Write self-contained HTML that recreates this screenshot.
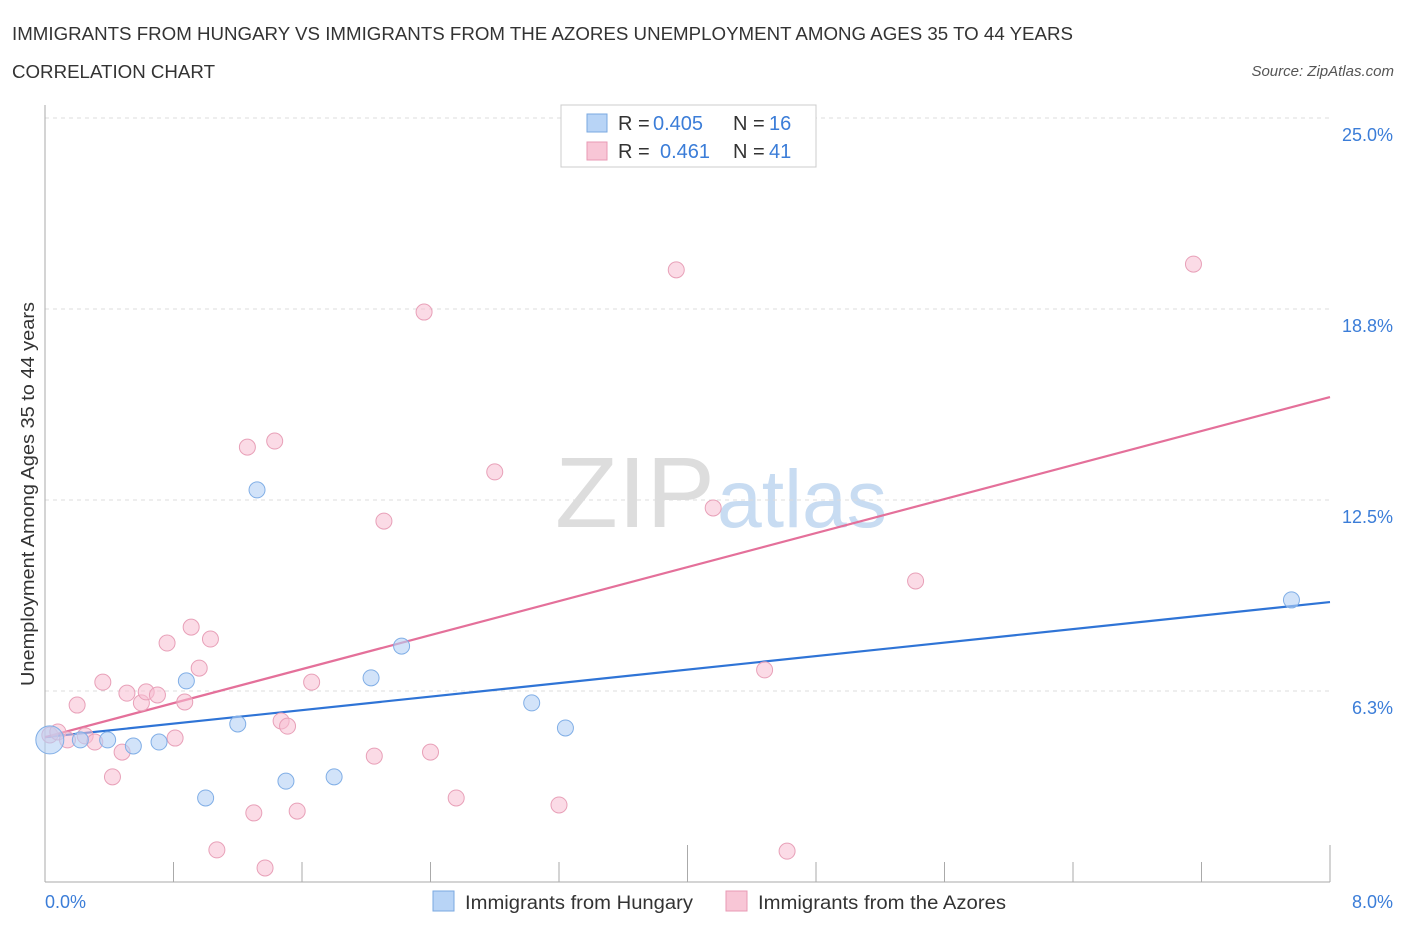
<!DOCTYPE html>
<html><head><meta charset="utf-8">
<style>
body{margin:0;background:#fff;font-family:"Liberation Sans",sans-serif;}
svg text{font-family:"Liberation Sans",sans-serif;}
</style></head>
<body>
<svg id="chart" width="1406" height="930" xmlns="http://www.w3.org/2000/svg">
<text x="12" y="40" font-size="18" fill="#333" textLength="1061" lengthAdjust="spacingAndGlyphs">IMMIGRANTS FROM HUNGARY VS IMMIGRANTS FROM THE AZORES UNEMPLOYMENT AMONG AGES 35 TO 44 YEARS</text>
<text x="12" y="78" font-size="18" fill="#333" textLength="203" lengthAdjust="spacingAndGlyphs">CORRELATION CHART</text>
<text x="1394" y="76" font-size="15" fill="#555" text-anchor="end" font-style="italic">Source: ZipAtlas.com</text>
<text transform="translate(34,494) rotate(-90)" font-size="18" fill="#333" text-anchor="middle" textLength="384" lengthAdjust="spacingAndGlyphs">Unemployment Among Ages 35 to 44 years</text>
<text x="555" y="527" font-size="100" fill="#ddd" font-family="Liberation Serif" textLength="160" lengthAdjust="spacingAndGlyphs">ZIP</text>
<text x="717" y="527" font-size="82" fill="#c8dcf2" textLength="170" lengthAdjust="spacingAndGlyphs">atlas</text>
<g id="grid"></g><g id="axes"></g><g id="trends"></g><g id="points"></g>
<g>
<rect x="561" y="105" width="255" height="62" fill="#fff" stroke="#ccc"/>
<rect x="587" y="114" width="20" height="18" fill="#b8d4f6" stroke="#7aa8e0"/>
<text x="618" y="130" font-size="20" fill="#333">R =</text>
<text x="653" y="130" font-size="20" fill="#3b7dd8">0.405</text>
<text x="733" y="130" font-size="20" fill="#333">N =</text>
<text x="769" y="130" font-size="20" fill="#3b7dd8">16</text>
<rect x="587" y="142" width="20" height="18" fill="#f8c6d6" stroke="#e89ab4"/>
<text x="618" y="158" font-size="20" fill="#333">R =</text>
<text x="660" y="158" font-size="20" fill="#3b7dd8">0.461</text>
<text x="733" y="158" font-size="20" fill="#333">N =</text>
<text x="769" y="158" font-size="20" fill="#3b7dd8">41</text>
</g>
<g>
<rect x="433" y="891" width="21" height="20" fill="#b8d4f6" stroke="#7aa8e0"/>
<text x="465" y="909" font-size="19" fill="#333" textLength="228" lengthAdjust="spacingAndGlyphs">Immigrants from Hungary</text>
<rect x="726" y="891" width="21" height="20" fill="#f8c6d6" stroke="#e89ab4"/>
<text x="758" y="909" font-size="19" fill="#333" textLength="248" lengthAdjust="spacingAndGlyphs">Immigrants from the Azores</text>
</g>
</svg>
<script>
const xTickLabels=["0.0%","8.0%"];
const yTicks=[6.25,12.5,18.75,25];
const yTickLabels=["6.3%","12.5%","18.8%","25.0%"];
const hungaryX=[0.03,0.22,0.39,0.55,0.71,0.88,1.00,1.20,1.32,1.50,1.80,2.03,2.22,3.03,3.24,7.76];
const hungaryY=[4.65,4.65,4.65,4.45,4.58,6.58,2.75,5.17,12.83,3.30,3.44,6.68,7.72,5.86,5.04,9.23];
const azoresX=[0.03,0.08,0.14,0.20,0.25,0.31,0.36,0.42,0.48,0.51,0.60,0.63,0.70,0.76,0.81,0.87,0.91,0.96,1.03,1.07,1.26,1.30,1.37,1.43,1.47,1.51,1.57,1.66,2.05,2.11,2.36,2.40,2.56,2.80,3.20,3.93,4.16,4.48,4.62,5.42,7.15];
const azoresY=[4.81,4.91,4.65,5.79,4.78,4.58,6.54,3.44,4.25,6.18,5.86,6.22,6.12,7.82,4.71,5.89,8.34,7.00,7.95,1.05,14.23,2.26,0.46,14.43,5.27,5.10,2.32,6.54,4.12,11.81,18.65,4.25,2.75,13.42,2.52,20.03,12.24,6.94,1.01,9.85,20.22];
const hungaryTrend=[4.74,9.16];
const azoresTrend=[4.74,15.87];
const NS="http://www.w3.org/2000/svg";
const X=v=>45+v/8*1285, Y=v=>882-v*30.56;
function mk(t,a,p){const e=document.createElementNS(NS,t);for(const k in a)e.setAttribute(k,a[k]);p.appendChild(e);return e;}
const grid=document.getElementById('grid'),axes=document.getElementById('axes');
yTicks.forEach((v,i)=>{
 const l=mk('line',{x1:45,x2:1330,y1:Y(v),y2:Y(v),stroke:'#ddd','stroke-dasharray':'4,4'},grid);
 
 
 const t=mk('text',{x:1393,y:Y(v)+23,'font-size':18,fill:'#3b7dd8','text-anchor':'end'},grid);
 t.textContent=yTickLabels[i];
 
 
});
const ya=mk('line',{x1:45,x2:45,y1:105,y2:882,stroke:'#aaa'},axes);


const xa=mk('line',{x1:45,x2:1330,y1:882,y2:882,stroke:'#aaa'},axes);


for(let i=0;i<=10;i++){
 const v=i*0.8;
 const tk=mk('line',{x1:X(v),x2:X(v),y1:i==5||i==10?845:862,y2:882,stroke:'#aaa'},axes);
 
 
}
[[0,'start',45],[8,'end',1393]].forEach((d,i)=>{
 const t=mk('text',{x:d[2],y:908,'font-size':18,fill:'#3b7dd8','text-anchor':d[1]},axes);
 t.textContent=xTickLabels[i];
 
 
});
const tr=document.getElementById('trends');
const bt=mk('line',{x1:X(0),y1:Y(hungaryTrend[0]),x2:X(8),y2:Y(hungaryTrend[1]),stroke:'#2f74d6','stroke-width':2.2},tr);


const pt=mk('line',{x1:X(0),y1:Y(azoresTrend[0]),x2:X(8),y2:Y(azoresTrend[1]),stroke:'#e4709a','stroke-width':2.2},tr);


const pts=document.getElementById('points');
azoresX.forEach((x,i)=>{
 const c=mk('circle',{cx:X(x),cy:Y(azoresY[i]),r:8,fill:'rgba(248,190,210,0.55)',stroke:'#e8a0b8','stroke-width':1},pts);
 
 
});
hungaryX.forEach((x,i)=>{
 const c=mk('circle',{cx:X(x),cy:Y(hungaryY[i]),r:i==0?14:8,fill:'rgba(180,208,245,0.6)',stroke:'#80aee6','stroke-width':1},pts);
 
 
});
</script>
</body></html>
